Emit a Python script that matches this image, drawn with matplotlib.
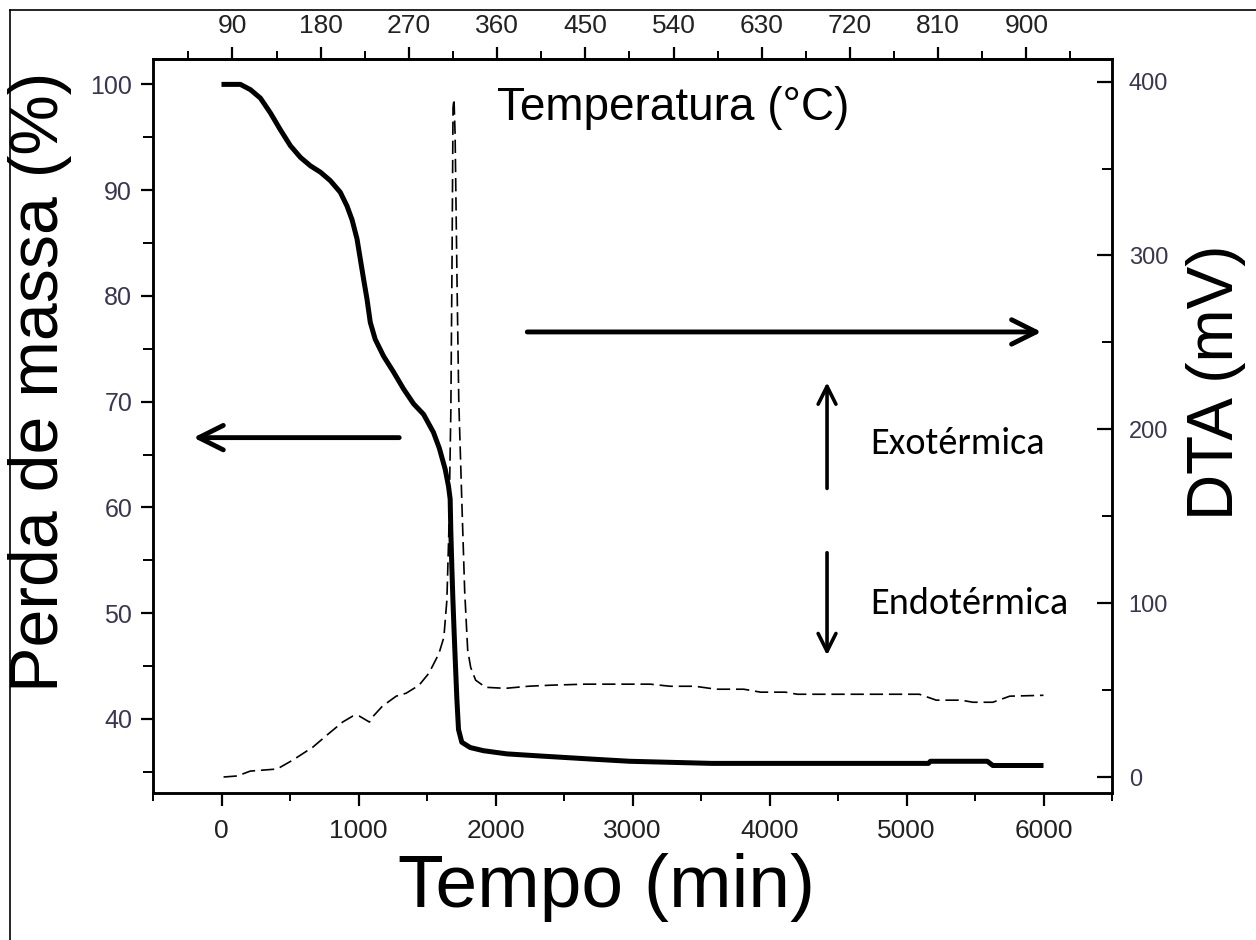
import matplotlib
matplotlib.use("Agg")
import matplotlib.pyplot as plt
from matplotlib.ticker import MultipleLocator
from matplotlib import font_manager as fm
from matplotlib.lines import Line2D

# ---------------- data ----------------
tg_time = [0, 138, 211, 284, 357, 430, 503, 576, 649, 722, 794, 867, 916, 953,
           989, 1013, 1037, 1062, 1086, 1122, 1183, 1256, 1329, 1402, 1475,
           1547, 1590, 1633, 1657, 1669, 1674, 1681, 1689, 1698, 1708, 1718,
           1730, 1754, 1815, 1912, 2082, 2325, 2710, 2978, 3580, 5160, 5175,
           5590, 5630, 6000]
tg_mass = [100, 100, 99.5, 98.7, 97.3, 95.7, 94.2, 93.1, 92.3, 91.7, 90.9, 89.8,
           88.5, 87.2, 85.4, 83.5, 81.6, 79.7, 77.5, 75.9, 74.3, 72.8, 71.2,
           69.8, 68.8, 67.1, 65.6, 63.6, 62.0, 60.8, 57.7, 54.5, 51.3, 48.2,
           45.0, 41.9, 39.0, 37.8, 37.3, 37.0, 36.7, 36.5, 36.2, 36.0, 35.8,
           35.8, 36.0, 36.0, 35.6, 35.6]

dta_time = [15, 116, 210, 406, 522, 667, 768, 884, 957, 1007, 1050, 1080, 1101,
            1174, 1275, 1348, 1442, 1514, 1587, 1623, 1645, 1659, 1674, 1683,
            1690, 1697, 1705, 1720, 1732, 1754, 1775, 1797, 1819, 1855, 1928,
            2072, 2239, 2400, 2650, 3130, 3275, 3456, 3610, 3812, 3935, 4116,
            4203, 5094, 5217, 5399, 5485, 5630, 5754, 6000]
dta_mv = [0, 0.6, 3.4, 4.6, 9.8, 17.2, 24, 31.6, 35, 35, 33, 31.6, 34.4,
          40.7, 46.5, 48.2, 52.8, 59.7, 71, 80.3, 101.6, 140, 210, 300,
          385, 390, 370, 280, 216, 159, 107, 73, 63, 55.7, 51.6,
          51, 52.2, 52.8, 53.4, 53.4, 52.2, 52.2, 50.5, 50.5, 48.8, 48.8,
          47.6, 47.6, 44.2, 44.2, 43, 43, 46.5, 47]

temp_ticks_step = 90
xlabel = "Tempo (min)"
ylabel_left = "Perda de massa (%)"
ylabel_right = "DTA (mV)"
top_label = "Temperatura (°C)"
exo_label = "Exotérmica"
endo_label = "Endotérmica"

# ---------------- fonts ----------------
names = {f.name for f in fm.fontManager.ttflist}
SANS = "Liberation Sans" if "Liberation Sans" in names else "DejaVu Sans"
NARROW = "Liberation Sans Narrow" if "Liberation Sans Narrow" in names else SANS
CAL = "Carlito" if "Carlito" in names else ("Lato" if "Lato" in names else SANS)
plt.rcParams["font.family"] = [SANS, "DejaVu Sans"]

W, H = 1256, 940
fig = plt.figure(figsize=(W / 100, H / 100), dpi=100)
L, R, T, B = 153, 1112, 59, 793
ax = fig.add_axes([L / W, 1 - B / H, (R - L) / W, (B - T) / H])
ax2 = ax.twinx()

# curves
ax.plot(tg_time, tg_mass, color="black", lw=3.6, solid_joinstyle="round",
        solid_capstyle="butt", zorder=3)
ax2.plot(dta_time, dta_mv, color="black", lw=1.2, linestyle=(0, (8, 3.5)),
         zorder=2)

ax.set_xlim(-500, 6500)
ax.set_ylim(33.0, 102.4)
ax2.set_ylim(-9.2, 413)

# ticks
ax.xaxis.set_major_locator(MultipleLocator(1000))
ax.xaxis.set_minor_locator(MultipleLocator(500))
ax.yaxis.set_major_locator(MultipleLocator(10))
ax.yaxis.set_minor_locator(MultipleLocator(5))
ax2.yaxis.set_major_locator(MultipleLocator(100))
ax2.yaxis.set_minor_locator(MultipleLocator(50))

for a in (ax, ax2):
    for s in a.spines.values():
        s.set_linewidth(1.8)

tick_col = "#3a3650"
ax.tick_params(axis="x", which="major", direction="out", length=9, width=1.6,
               labelsize=19, pad=10, labelcolor="#222222")
ax.tick_params(axis="x", which="minor", direction="out", length=6, width=1.4)
for lab in ax.get_xticklabels():
    lab.set_fontfamily(NARROW)
ax.tick_params(axis="y", which="major", direction="out", length=9, width=1.6,
               labelsize=18, pad=6, labelcolor=tick_col)
ax.tick_params(axis="y", which="minor", direction="out", length=7, width=1.4)
ax2.tick_params(axis="y", which="major", direction="in", length=11, width=1.6,
                labelsize=17, pad=12, labelcolor=tick_col)
ax2.tick_params(axis="y", which="minor", direction="in", length=7, width=1.4)

# top temperature axis (linear relation with time)
def t2c(t):
    return 90 + (t - 80) * 0.13978

def c2t(c):
    return 80 + (c - 90) / 0.13978

sec = ax.secondary_xaxis("top", functions=(t2c, c2t))
sec.xaxis.set_major_locator(MultipleLocator(temp_ticks_step))
sec.xaxis.set_minor_locator(MultipleLocator(temp_ticks_step / 2))
sec.tick_params(axis="x", which="major", direction="out", length=9, width=1.6,
                labelsize=19, pad=6, labelcolor="#222222")
sec.tick_params(axis="x", which="minor", direction="out", length=6, width=1.4)
sec.spines["top"].set_linewidth(1.8)
for lab in sec.get_xticklabels():
    lab.set_fontfamily(NARROW)

# axis titles
fig.text(606 / W, 1 - 887 / H, xlabel, ha="center", va="center", fontsize=54,
         family=SANS)
fig.text(40 / W, 1 - 382 / H, ylabel_left, ha="center", va="center",
         fontsize=49, rotation=90, family=SANS)
fig.text(1216 / W, 1 - 382 / H, ylabel_right, ha="center", va="center",
         fontsize=46, rotation=90, family=SANS)
fig.text(673 / W, 1 - 108 / H, top_label, ha="center", va="center",
         fontsize=33, family=SANS)

# arrows
ax.annotate("", xy=(-205, 66.6), xytext=(1297, 66.6),
            arrowprops=dict(arrowstyle="->", lw=3.5, color="black",
                            mutation_scale=44, shrinkA=0, shrinkB=0))
ax2.annotate("", xy=(5985, 256), xytext=(2232, 256),
             arrowprops=dict(arrowstyle="->", lw=3.5, color="black",
                             mutation_scale=44, shrinkA=0, shrinkB=0))
ax2.annotate("", xy=(4420, 227), xytext=(4420, 166),
             arrowprops=dict(arrowstyle="->", lw=2.6, color="black",
                             mutation_scale=32, shrinkA=0, shrinkB=0))
ax2.annotate("", xy=(4420, 70), xytext=(4420, 129),
             arrowprops=dict(arrowstyle="->", lw=2.6, color="black",
                             mutation_scale=32, shrinkA=0, shrinkB=0))
ax2.text(4735, 192, exo_label, ha="left", va="center", fontsize=27.5, family=CAL)
ax2.text(4735, 100, endo_label, ha="left", va="center", fontsize=27.5, family=CAL)

# outer frame (left and top edges)
fig.add_artist(Line2D([10 / W, 10 / W], [0, 1 - 10 / H], transform=fig.transFigure,
                      color="black", lw=1.2))
fig.add_artist(Line2D([10 / W, 1], [1 - 10 / H, 1 - 10 / H], transform=fig.transFigure,
                      color="black", lw=1.2))

fig.savefig("out.png", dpi=100)
